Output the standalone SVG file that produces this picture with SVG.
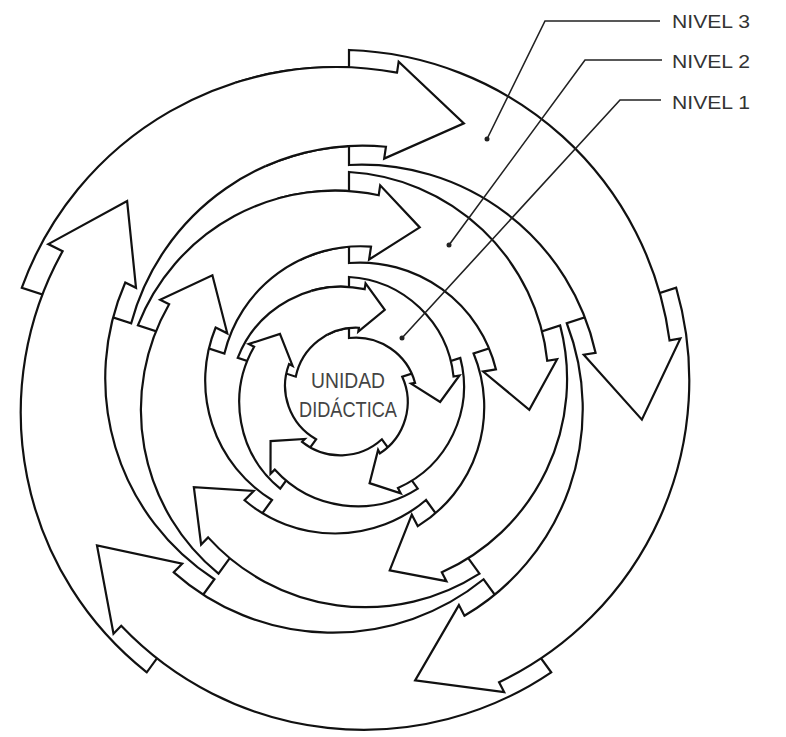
<svg xmlns="http://www.w3.org/2000/svg" width="786" height="737" viewBox="0 0 786 737">
<defs>
<style>
.ar{fill:#fff;stroke:#111;stroke-width:2.2;stroke-linejoin:miter}
.ld{fill:none;stroke:#222;stroke-width:1.6}
.dot{fill:#222}
.lbl{font-family:"Liberation Sans",Arial,sans-serif;font-size:19px;fill:#333}
.ctr{font-family:"Liberation Sans",Arial,sans-serif;font-size:22px;fill:#444;text-anchor:middle}
</style>
<path id="a3" class="ar" d="M0,-344 A334.5,334.5 0 0 1 320.54,-53.64 L331.39,-55.46 L292.88,25.63 L234.74,-39.28 L246.57,-41.26 A239.5,239.5 0 0 0 0,-229 Z"/>
<path id="a3d" class="ar" d="M0,-344 A331,331 0 0 1 315.61,-52.82 L331.39,-55.46 L292.88,25.63 L234.74,-39.28 L246.57,-41.26 A239.5,239.5 0 0 0 0,-229 Z"/>
<path id="a2" class="ar" d="M0,-222 A211.5,211.5 0 0 1 198.24,-33.18 L208.11,-34.83 L180.31,15.78 L134.14,-22.45 L146.96,-24.59 A140,140 0 0 0 0,-131 Z"/>
<path id="a1" class="ar" d="M0,-117 A111.5,111.5 0 0 1 104.55,-17.5 L110.46,-18.49 L91.15,7.98 L62.14,-10.4 L66.08,-11.06 A61.5,61.5 0 0 0 0,-56 Z"/>
<clipPath id="wedge" clipPathUnits="userSpaceOnUse"><polygon points="349,394 198,-20 349,-46 582,21"/></clipPath>
</defs>
<rect width="786" height="737" fill="#fff"/>
<g id="nivel3">
<use id="n3-e" href="#a3" transform="translate(349 394) rotate(288)"/>
<use id="n3-d" href="#a3d" transform="translate(349 394) rotate(216)"/>
<use id="n3-c" href="#a3" transform="translate(349 394) rotate(144)"/>
<use id="n3-b" href="#a3" transform="translate(349 394) rotate(72)"/>
<use id="n3-a" href="#a3" transform="translate(349 394)"/>
<g clip-path="url(#wedge)"><use href="#a3" transform="translate(349 394) rotate(288)"/></g>
</g>
<g id="nivel2">
<use id="n2-e" href="#a2" transform="translate(349 394) rotate(288)"/>
<use id="n2-d" href="#a2" transform="translate(349 394) rotate(216)"/>
<use id="n2-c" href="#a2" transform="translate(349 394) rotate(144)"/>
<use id="n2-b" href="#a2" transform="translate(349 394) rotate(72)"/>
<use id="n2-a" href="#a2" transform="translate(349 394)"/>
<g clip-path="url(#wedge)"><use href="#a2" transform="translate(349 394) rotate(288)"/></g>
</g>
<g id="nivel1">
<use id="n1-e" href="#a1" transform="translate(349 394) rotate(288)"/>
<use id="n1-d" href="#a1" transform="translate(349 394) rotate(216)"/>
<use id="n1-c" href="#a1" transform="translate(349 394) rotate(144)"/>
<use id="n1-b" href="#a1" transform="translate(349 394) rotate(72)"/>
<use id="n1-a" href="#a1" transform="translate(349 394)"/>
<g clip-path="url(#wedge)"><use href="#a1" transform="translate(349 394) rotate(288)"/></g>
</g>
<g id="centro">
<text class="ctr" x="348" y="388" textLength="74" lengthAdjust="spacingAndGlyphs">UNIDAD</text>
<text class="ctr" x="348" y="417" textLength="98" lengthAdjust="spacingAndGlyphs">DIDÁCTICA</text>
</g>
<g id="leaders">
<polyline class="ld" points="487,139 545,21 660,21"/>
<polyline class="ld" points="449,245 585,60 662,60"/>
<polyline class="ld" points="402,338 620,100 661,100"/>
<circle class="dot" cx="487" cy="139" r="2.5"/>
<circle class="dot" cx="449" cy="245" r="2.5"/>
<circle class="dot" cx="402" cy="338" r="2.5"/>
</g>
<g id="labels">
<text class="lbl" x="672" y="28" textLength="78" lengthAdjust="spacingAndGlyphs">NIVEL 3</text>
<text class="lbl" x="672" y="68" textLength="78" lengthAdjust="spacingAndGlyphs">NIVEL 2</text>
<text class="lbl" x="672" y="109" textLength="78" lengthAdjust="spacingAndGlyphs">NIVEL 1</text>
</g>
</svg>
